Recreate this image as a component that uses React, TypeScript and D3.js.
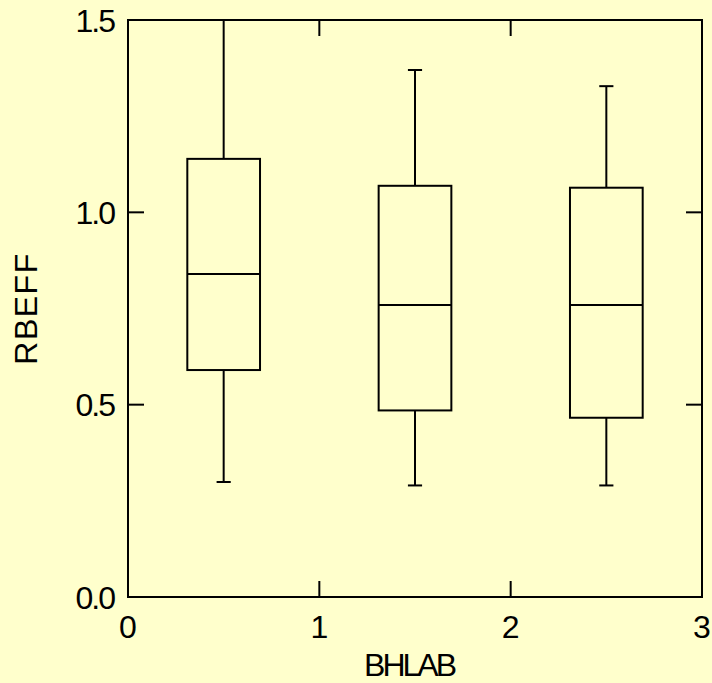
import React from "react";
import * as d3 from "d3";

const categories = ["0.5", "1.5", "2.5"];
const positions = [0.5, 1.5, 2.5];
const whiskerLow = [0.299, 0.29, 0.29];
const q1 = [0.59, 0.485, 0.466];
const medians = [0.84, 0.759, 0.759];
const q3 = [1.139, 1.069, 1.064];
const whiskerHigh = [1.5, 1.37, 1.328];
const xTicks = [0, 1, 2, 3];
const yTicks = [0, 0.5, 1.0, 1.5];
const xTitle = "BHLAB";
const yTitle = "RBEFF";

const W = 712;
const H = 683;
const bg = "#FFFFCC";

export default function App() {
  const x = d3.scaleLinear().domain([0, 3]).range([128, 702]);
  const y = d3.scaleLinear().domain([0, 1.5]).range([597, 20]);
  const tick = 16;
  const halfBox = 0.19;
  const halfCap = 0.037;
  const font = "'Liberation Sans', Arial, sans-serif";
  const sw = 2;
  const fs = 32;

  return (
    <svg
      width={W}
      height={H}
      style={{ position: "fixed", left: 0, top: 0, display: "block", background: bg }}
    >
      <rect x={0} y={0} width={W} height={H} fill={bg} />
      {/* frame */}
      <rect
        x={x(0)}
        y={y(1.5)}
        width={x(3) - x(0)}
        height={y(0) - y(1.5)}
        fill="none"
        stroke="#000"
        strokeWidth={sw}
      />
      {/* x ticks */}
      {xTicks.map((t) => (
        <g key={"xt" + t}>
          <line x1={x(t)} x2={x(t)} y1={y(0)} y2={y(0) - tick} stroke="#000" strokeWidth={sw} />
          <line x1={x(t)} x2={x(t)} y1={y(1.5)} y2={y(1.5) + tick} stroke="#000" strokeWidth={sw} />
          <text x={x(t)} y={638} textAnchor="middle" fontFamily={font} fontSize={fs}>
            {d3.format("d")(t)}
          </text>
        </g>
      ))}
      {/* y ticks */}
      {yTicks.map((t) => (
        <g key={"yt" + t}>
          <line x1={x(0)} x2={x(0) + tick} y1={y(t)} y2={y(t)} stroke="#000" strokeWidth={sw} />
          <line x1={x(3)} x2={x(3) - tick} y1={y(t)} y2={y(t)} stroke="#000" strokeWidth={sw} />
          <text
            x={114}
            y={y(t) + 11.5}
            textAnchor="end"
            fontFamily={font}
            fontSize={fs}
            letterSpacing={-2}
          >
            {d3.format(".1f")(t)}
          </text>
        </g>
      ))}
      {/* boxes */}
      {categories.map((c, i) => {
        const p = positions[i];
        return (
          <g key={c} stroke="#000" strokeWidth={sw} fill="none">
            <line x1={x(p)} x2={x(p)} y1={y(whiskerHigh[i])} y2={y(q3[i])} />
            <line x1={x(p)} x2={x(p)} y1={y(q1[i])} y2={y(whiskerLow[i])} />
            <line x1={x(p - halfCap)} x2={x(p + halfCap)} y1={y(whiskerHigh[i])} y2={y(whiskerHigh[i])} />
            <line x1={x(p - halfCap)} x2={x(p + halfCap)} y1={y(whiskerLow[i])} y2={y(whiskerLow[i])} />
            <rect
              x={x(p - halfBox)}
              y={y(q3[i])}
              width={x(p + halfBox) - x(p - halfBox)}
              height={y(q1[i]) - y(q3[i])}
            />
            <line x1={x(p - halfBox)} x2={x(p + halfBox)} y1={y(medians[i])} y2={y(medians[i])} />
          </g>
        );
      })}
      {/* titles */}
      <text
        x={(x(0) + x(3)) / 2 - 6}
        y={676}
        textAnchor="middle"
        fontFamily={font}
        fontSize={fs}
        letterSpacing={-3}
      >
        {xTitle}
      </text>
      <text
        transform={`translate(37, ${(y(0) + y(1.5)) / 2}) rotate(-90)`}
        textAnchor="middle"
        fontFamily={font}
        fontSize={fs}
        letterSpacing={1.5}
      >
        {yTitle}
      </text>
    </svg>
  );
}
